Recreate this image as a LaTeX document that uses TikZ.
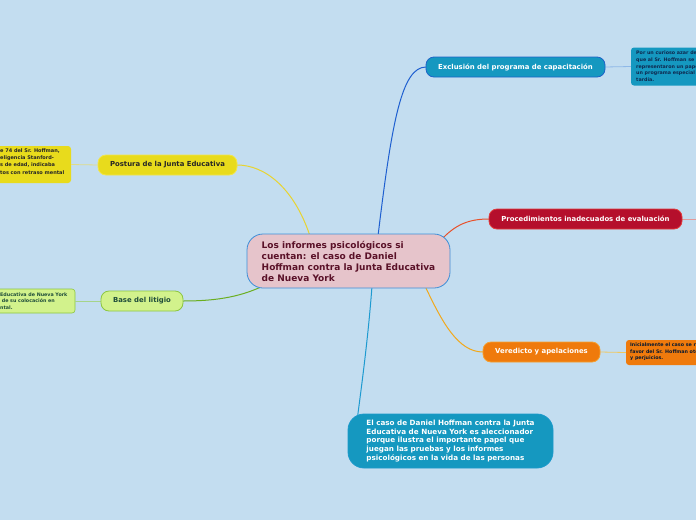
\documentclass[tikz,border=0pt]{standalone}
\usepackage{fontspec}
\setmainfont{DejaVu Sans}
\definecolor{bgc}{HTML}{C3DDF0}
\definecolor{cenfill}{HTML}{E6C4CB}
\definecolor{cenbord}{HTML}{3D8FD8}
\definecolor{centext}{HTML}{5A1128}
\definecolor{tealfill}{HTML}{1598C0}
\definecolor{tealbord}{HTML}{1D63C8}
\definecolor{redfill}{HTML}{B50F2C}
\definecolor{redbord}{HTML}{E23B3B}
\definecolor{orfill}{HTML}{EF7A0C}
\definecolor{orbord}{HTML}{F5A030}
\definecolor{yelfill}{HTML}{E8DB1C}
\definecolor{yelbord}{HTML}{F2E64A}
\definecolor{grfill}{HTML}{D2F28C}
\definecolor{grbord}{HTML}{8CC63F}
\definecolor{grtext}{HTML}{1F4D3A}
\definecolor{navytext}{HTML}{0E2A50}
\definecolor{cblue}{HTML}{1E5FD0}
\definecolor{cred}{HTML}{E8502A}
\definecolor{corange}{HTML}{F2A81A}
\definecolor{clblue}{HTML}{1E9AD0}
\definecolor{cyel}{HTML}{E8D430}
\definecolor{cgreen}{HTML}{6AAE20}
\definecolor{lblue}{HTML}{8EB8E8}
\definecolor{lred}{HTML}{E29A9A}
\definecolor{lorange}{HTML}{F0C860}
\definecolor{lyel}{HTML}{E0DC8A}
\definecolor{lgreen}{HTML}{A6D48A}
\tikzset{
  branch/.style={draw, line width=0.8pt, rounded corners=8pt, minimum height=20pt, inner sep=0pt,
    font=\fontsize{6.9}{8}\selectfont\bfseries},
  bigbox/.style={draw, line width=0.8pt, rounded corners=16pt, inner sep=0pt},
  smallbox/.style={rounded corners=3pt, inner sep=0pt},
  smalltext/.style={inner sep=0pt, align=left, font=\fontsize{4.8}{6.6}\selectfont\bfseries},
  conn/.style={line width=1pt},
  thin/.style={line width=0.8pt}
}
\begin{document}
\begin{tikzpicture}[x=1pt,y=-1pt]
\useasboundingbox (0,0) rectangle (696,520);
\clip (0,0) rectangle (696,520);
\fill[bgc] (0,0) rectangle (696,520);

% connectors (drawn first)
\coordinate (s1) at (378,236);
\coordinate (s2) at (441,240);
\coordinate (s3) at (425,286);
\coordinate (s4) at (372,286);
\coordinate (s5) at (310,236);
\coordinate (s6) at (263,286);
\coordinate (e1) at (426,67);
\coordinate (e2) at (489,219);
\coordinate (e3) at (483,352);
\coordinate (e4) at (357,421);
\coordinate (e5) at (237,165);
\coordinate (e6) at (183,301);
\draw[conn, cblue] (s1) .. controls (392,120) and (402,67) .. (e1);
\draw[conn, cred] (s2) .. controls (455,225) and (468,219) .. (e2);
\draw[conn, corange] (s3) .. controls (442,322) and (458,352) .. (e3);
\draw[conn, clblue] (s4) .. controls (368,340) and (361,390) .. (e4);
\draw[conn, cyel] (s5) .. controls (294,188) and (265,165) .. (e5);
\draw[conn, cgreen] (s6) .. controls (238,298) and (212,301) .. (e6);

% sub boxes
\node[smallbox, fill=tealfill, minimum width=90pt, minimum height=38pt] (sbex) at (676,66.5) {};
\node[smalltext, text=navytext, anchor=north west] (tex) at (636,51)
  {Por un curioso azar del destino,\\que al Sr. Hoffman se le\\representaron un papel en\\un programa especial\\tardía.};
\node[smallbox, fill=orfill, minimum width=90pt, minimum height=25pt] (sbor) at (671,352.5) {};
\node[smalltext, text=navytext!60!black, anchor=north west] (tor) at (630,342.5)
  {Inicialmente el caso se resolvió a\\favor del Sr. Hoffman otorgándole\\y perjuicios.};
\node[smallbox, fill=yelfill, minimum width=91pt, minimum height=37pt] (sbyel) at (25.5,164.5) {};
\node[smalltext, text=black!85, anchor=north west, font=\fontsize{5.0}{7.2}\selectfont\bfseries] (tyel) at (0,148.5)
  {e 74 del Sr. Hoffman,\\eligencia Stanford-\\s de edad, indicaba\\tos con retraso mental};
\node[smallbox, fill=grfill, draw=grbord, line width=0.6pt, minimum width=95pt, minimum height=24pt] (sbgr) at (27.5,301) {};
\node[smalltext, text=grtext, anchor=north west] (tgr) at (0,292.5)
  {Educativa de Nueva York\\\ de su colocación en\\ntal.};

% thin links
\draw[thin, lblue] (605,67) -- (sbex.west);
\draw[thin, lred] (682,219) -- (696,219);
\draw[thin, lorange] (600,352) -- (sbor.west);
\draw[thin, lyel] (98,165) -- (sbyel.east);
\draw[thin, lgreen] (101,301) -- (sbgr.east);

% central
\node[bigbox, fill=cenfill, draw=cenbord, minimum width=203pt, minimum height=54pt,
  align=left, text=centext, font=\fontsize{9.0}{11}\selectfont\bfseries] (cen) at (348.5,261)
  {Los informes psicológicos si\\cuentan: el caso de Daniel\\Hoffman contra la Junta Educativa\\de Nueva York};

% branches
\node[branch, fill=tealfill, draw=tealbord, text=white, minimum width=179pt] (excl) at (515.5,67) {Exclusión del programa de capacitación};
\node[branch, fill=redfill, draw=redbord, text=white, minimum width=193pt] (proc) at (585.5,219) {Procedimientos inadecuados de evaluación};
\node[branch, fill=orfill, draw=orbord, text=white, minimum width=117pt] (ver) at (541.5,352) {Veredicto y apelaciones};
\node[branch, fill=yelfill, draw=yelbord, text=black!85, minimum width=139pt] (pos) at (167.5,165) {Postura de la Junta Educativa};
\node[branch, fill=grfill, draw=grbord, text=grtext, minimum width=82pt] (base) at (142,301) {Base del litigio};

% bottom
\node[bigbox, fill=tealfill, draw=clblue!70!tealfill, minimum width=205pt, minimum height=54pt,
  align=left, text=white, font=\fontsize{7.2}{8.8}\selectfont\bfseries] (bot) at (450.5,441)
  {El caso de Daniel Hoffman contra la Junta\\Educativa de Nueva York es aleccionador\\porque ilustra el importante papel que\\juegan las pruebas y los informes\\psicológicos en la vida de las personas};
\end{tikzpicture}
\end{document}
